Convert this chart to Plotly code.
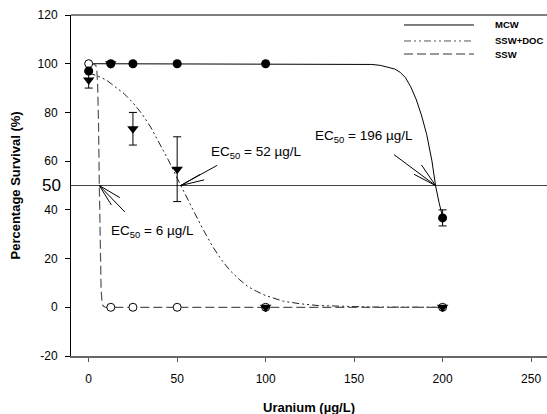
import plotly.graph_objects as go

# ---- data ----
conc = [0, 12.5, 25, 50, 100, 200]

mcw_y = [97, 100, 100, 100, 100, 36.7]
mcw_err = [None, None, None, None, None, 3.3]

doc_y = [93.3, 100, 73.3, 56.7, 0, 0]
doc_err = [3.3, None, 6.7, 13.3, None, None]

ssw_y = [100, 0, 0, 0, 0, 0]

# fitted curves
mcw_fit_x = [0, 100, 150, 160, 165, 170, 173, 176, 179, 182, 185, 188, 191, 194, 196, 198, 200]
mcw_fit_y = [100, 100, 100, 99.7, 99.3, 98.5, 97.8, 96.5, 94.3, 90.5, 85.5, 79, 71, 60, 50, 43, 37]

doc_fit_x = [0, 5, 10, 15, 20, 25, 30, 35, 40, 45, 50, 55, 60, 65, 70, 75, 80, 85, 90, 95, 100,
             110, 120, 130, 140, 160, 200]
doc_fit_y = [96.2, 95, 93.3, 90.6, 87.7, 84, 79.5, 74, 67.5, 60.5, 53, 45.5, 38.5, 31.5, 25, 19.5,
             15, 11.5, 8.5, 6.5, 4.8, 2.5, 1.4, 0.7, 0.4, 0.1, 0]

ssw_fit_x = [0, 3, 4, 4.5, 5, 5.5, 6, 6.5, 7, 7.5, 8, 9, 10, 200]
ssw_fit_y = [100, 99.8, 99.3, 98.4, 92.4, 77.7, 50, 22.3, 7.6, 2.3, 0.7, 0.1, 0, 0]

legend_names = ["MCW", "SSW+DOC", "SSW"]
ec50 = {"MCW": 196, "SSW+DOC": 52, "SSW": 6}

x_ticks = [0, 50, 100, 150, 200, 250]
y_ticks = [-20, 0, 20, 40, 60, 80, 100, 120]
y_ticktext = ["-20", "0", "20", "40", "60", "80", "100", "120"]

FONT = "Liberation Sans, Arial, sans-serif"
DASH_DOC = "7px,3px,2px,3px,2px,3px"
DASH_SSW = "9px,4px"

fig = go.Figure()

# 50% reference line
fig.add_trace(go.Scatter(x=[-10, 260], y=[50, 50], mode="lines",
                         line=dict(color="#444444", width=1), hoverinfo="skip", showlegend=False))

# curves
fig.add_trace(go.Scatter(x=mcw_fit_x, y=mcw_fit_y, mode="lines",
                         line=dict(color="black", width=1), showlegend=False))
fig.add_trace(go.Scatter(x=doc_fit_x, y=doc_fit_y, mode="lines",
                         line=dict(color="#222222", width=1, dash=DASH_DOC), showlegend=False))
fig.add_trace(go.Scatter(x=ssw_fit_x, y=ssw_fit_y, mode="lines",
                         line=dict(color="#555555", width=1.2, dash=DASH_SSW), showlegend=False))

# points
fig.add_trace(go.Scatter(x=conc, y=ssw_y, mode="markers",
                         marker=dict(symbol="circle", size=8, color="white",
                                     line=dict(color="black", width=1)), showlegend=False))
fig.add_trace(go.Scatter(x=conc, y=doc_y, mode="markers",
                         marker=dict(symbol="triangle-down", size=10, color="black"),
                         error_y=dict(type="data", array=doc_err, color="black", thickness=1, width=4),
                         showlegend=False))
fig.add_trace(go.Scatter(x=conc, y=mcw_y, mode="markers",
                         marker=dict(symbol="circle", size=9, color="black"),
                         error_y=dict(type="data", array=mcw_err, color="black", thickness=1, width=4),
                         showlegend=False))

# manual legend
leg_y = [0.9707, 0.9238, 0.8856]
leg_style = [dict(color="black", width=1), dict(color="#555555", width=1, dash=DASH_DOC),
             dict(color="#333333", width=1, dash=DASH_SSW)]
for name, yy, st in zip(legend_names, leg_y, leg_style):
    fig.add_shape(type="line", xref="paper", yref="paper", x0=0.6996, x1=0.8466, y0=yy, y1=yy, line=st)
    fig.add_annotation(xref="paper", yref="paper", x=0.8866, y=yy, text="<b>%s</b>" % name,
                       showarrow=False, xanchor="left", yanchor="middle",
                       font=dict(family=FONT, size=9.5, color="black"))

# top frame line
fig.add_shape(type="line", xref="paper", yref="paper", x0=0, x1=1, y0=1, y1=1,
              line=dict(color="black", width=1))

# EC50 labels
labels = [("SSW+DOC", 68, 63.5), ("MCW", 127, 70), ("SSW", 11.5, 31)]
for key, tx, ty in labels:
    fig.add_annotation(x=tx, y=ty, text="EC<sub>50</sub> = %d µg/L" % ec50[key], showarrow=False,
                       xanchor="left", yanchor="middle", font=dict(family=FONT, size=13.5, color="black"))

# arrows (three lines each, converging to EC50 point)
arrows = {"SSW+DOC": [(38, -21), (25, -6), (21, -12)],
          "MCW": [(-43, -32), (-23, -12), (-15, -22)],
          "SSW": [(27, 28), (22, 13), (13, 21)]}
for key, offs in arrows.items():
    for ax, ay in offs:
        fig.add_annotation(x=ec50[key], y=50, ax=ax, ay=ay, text="", showarrow=True,
                           arrowhead=0, arrowwidth=1, arrowcolor="black", standoff=0, startstandoff=0)

# enlarged "50" label on y axis
fig.add_annotation(xref="paper", x=0, y=50, text="50", showarrow=False, xanchor="right",
                   yanchor="middle", xshift=-8, font=dict(family=FONT, size=17, color="black"))

# axis titles
fig.add_annotation(xref="paper", yref="paper", x=0.5, y=-0.1496, text="<b>Uranium (µg/L)</b>",
                   showarrow=False, xanchor="center", yanchor="middle",
                   font=dict(family=FONT, size=13, color="black"))
fig.add_annotation(xref="paper", yref="paper", x=-0.1176, y=0.5, text="<b>Percentage Survival (%)</b>",
                   showarrow=False, xanchor="center", yanchor="middle", textangle=-90,
                   font=dict(family=FONT, size=13, color="black"))

fig.update_layout(
    width=547, height=414,
    margin=dict(l=71, r=0, t=15, b=58, autoexpand=False),
    paper_bgcolor="white", plot_bgcolor="white",
    font=dict(family=FONT, size=11, color="black"),
    showlegend=False,
    xaxis=dict(range=[-10, 259], tickvals=x_ticks, ticks="outside", ticklen=4, tickcolor="#555555",
               showline=True, linecolor="#666666", linewidth=2, showgrid=False, zeroline=False,
               tickfont=dict(family=FONT, size=12), ticklabelstandoff=7, automargin=False),
    yaxis=dict(range=[-20, 120], tickvals=y_ticks, ticktext=y_ticktext, ticks="outside", ticklen=5,
               tickcolor="black", showline=True, linecolor="black", linewidth=1, showgrid=False,
               zeroline=False, tickfont=dict(family=FONT, size=12), ticklabelstandoff=5,
               automargin=False),
)

fig.write_html("out.html", config={"displayModeBar": False},
               post_script="document.body.style.margin='0';document.body.style.overflow='hidden';")
